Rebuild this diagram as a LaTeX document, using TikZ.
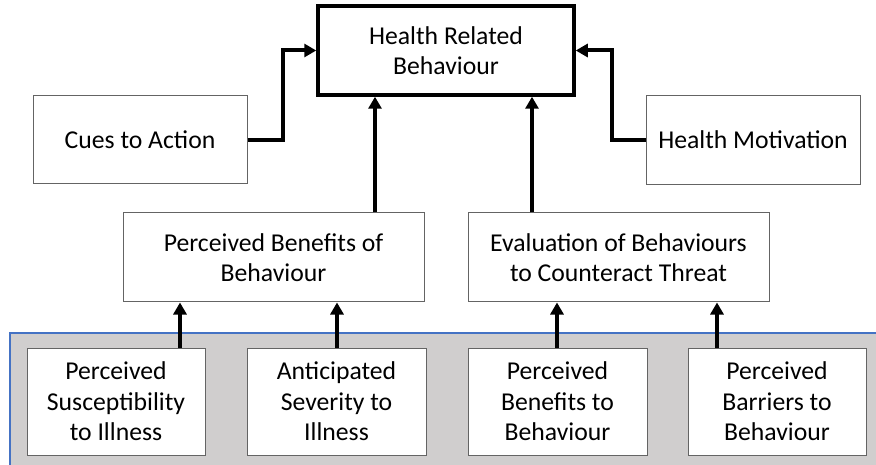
\documentclass[tikz,border=0pt]{standalone}
\usepackage{fontspec}
\setmainfont{Carlito}
\usetikzlibrary{arrows.meta}
\definecolor{bandgray}{RGB}{208,206,206}
\definecolor{bandblue}{RGB}{68,114,196}
\definecolor{boxline}{RGB}{100,100,100}
\begin{document}
\begin{tikzpicture}[x=1pt,y=-1pt,
  every node/.style={font=\fontsize{25.7}{30.5}\selectfont, align=center, inner sep=0pt},
  thinbox/.style={draw=boxline, line width=1pt, fill=white, rectangle},
  mainbox/.style={draw=black, line width=3.5pt, fill=white, rectangle},
  arr/.style={draw=black, line width=4pt, -{Triangle[length=12pt,width=13pt]}}]
\useasboundingbox (0,0) rectangle (876,465);
% band
\fill[bandgray] (10,333) rectangle (876,465);
\draw[bandblue, line width=1.2pt] (10,465) -- (10,333) -- (876,333);
% nodes
\node[mainbox, minimum width=256pt, minimum height=89pt] (top) at (446,50.5) {Health Related\\Behaviour};
\node[thinbox, minimum width=214pt, minimum height=88pt] (cues) at (140,140) {Cues to Action};
\node[thinbox, minimum width=214pt, minimum height=89pt] (hm) at (753,140) {Health Motivation};
\node[thinbox, minimum width=301pt, minimum height=89pt] (pbb) at (273.5,257.5) {Perceived Benefits of\\Behaviour};
\node[thinbox, minimum width=301pt, minimum height=89pt] (eval) at (618.5,257.5) {Evaluation of Behaviours\\to Counteract Threat};
\node[thinbox, minimum width=178pt, minimum height=107pt] (b1) at (116,401.5) {Perceived\\Susceptibility\\to Illness};
\node[thinbox, minimum width=179pt, minimum height=107pt] (b2) at (336.5,401.5) {Anticipated\\Severity to\\Illness};
\node[thinbox, minimum width=179pt, minimum height=107pt] (b3) at (557.5,401.5) {Perceived\\Benefits to\\Behaviour};
\node[thinbox, minimum width=178pt, minimum height=107pt] (b4) at (777,401.5) {Perceived\\Barriers to\\Behaviour};
% helper coordinates
\coordinate (x1) at (180,0);
\coordinate (x2) at (337,0);
\coordinate (x3) at (557,0);
\coordinate (x4) at (717,0);
\coordinate (x5) at (375,0);
\coordinate (x6) at (532,0);
\coordinate (xl) at (283,0);
\coordinate (xr) at (612,0);
% connectors
\draw[arr] (b1.north -| x1) -- (pbb.south -| x1);
\draw[arr] (b2.north -| x2) -- (pbb.south -| x2);
\draw[arr] (b3.north -| x3) -- (eval.south -| x3);
\draw[arr] (b4.north -| x4) -- (eval.south -| x4);
\draw[arr] (pbb.north -| x5) -- (top.south -| x5);
\draw[arr] (eval.north -| x6) -- (top.south -| x6);
\draw[arr] (cues.east) -| (xl |- top.west) -- (top.west);
\draw[arr] (hm.west) -| (xr |- top.east) -- (top.east);
\end{tikzpicture}
\end{document}
